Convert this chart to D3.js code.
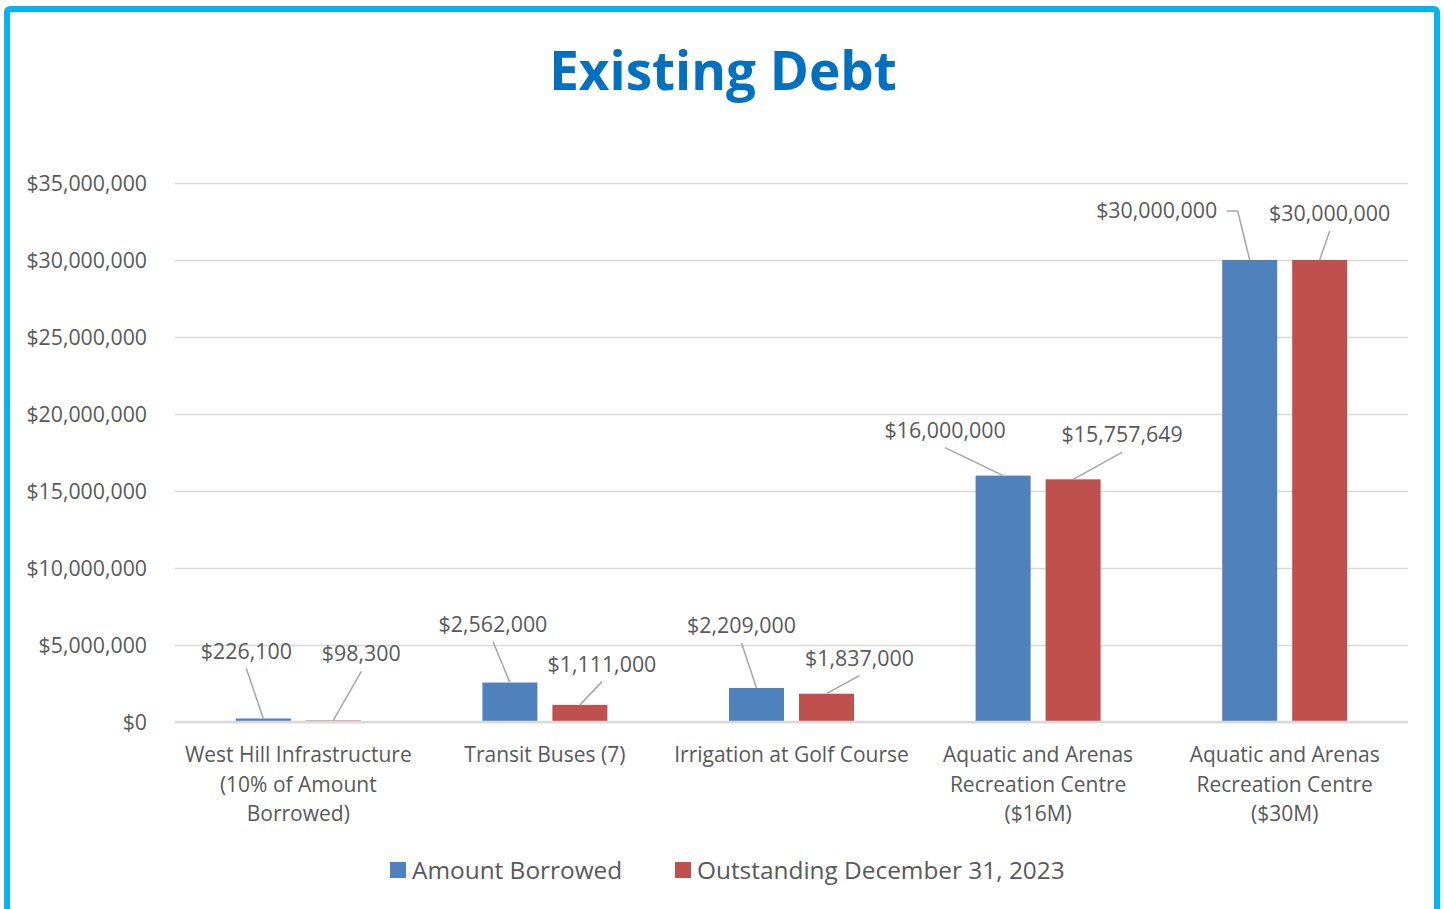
<!DOCTYPE html>
<html>
<head>
<meta charset="utf-8">
<script src="https://cdn.jsdelivr.net/npm/d3@7/dist/d3.min.js"></script>
<style>
  html, body { margin: 0; padding: 0; background: #fff; }
  svg { display: block; }
</style>
</head>
<body>
<svg id="chart" width="1444" height="909"></svg>
<script>
// Debt projects and amounts
const categories = [
  ["West Hill Infrastructure", "(10% of Amount", "Borrowed)"],
  ["Transit Buses (7)"],
  ["Irrigation at Golf Course"],
  ["Aquatic and Arenas", "Recreation Centre", "($16M)"],
  ["Aquatic and Arenas", "Recreation Centre", "($30M)"]
];
const seriesNames = ["Amount Borrowed", "Outstanding December 31, 2023"];
const amountBorrowed = [226100, 2562000, 2209000, 16000000, 30000000];
const outstanding2023 = [98300, 1111000, 1837000, 15757649, 30000000];
const yTicks = [0, 5000000, 10000000, 15000000, 20000000, 25000000, 30000000, 35000000];

// Callout placement for each data label: [dx, dy] of the label from the bar top
const labelOffsetsBorrowed = [[-17, -60], [-17, -51], [-15, -55], [-58, -38], [-93, -42]];
const labelOffsetsOutstanding = [[28, -59], [22, -33], [33, -28], [49, -37], [10, -39]];

const colors = ["#4F81BD", "#C0504D"];
const font = "'Open Sans', sans-serif";
const textColor = "#595959";

const svg = d3.select("#chart");

// Frame
svg.append("rect")
  .attr("x", 7).attr("y", 9).attr("width", 1430).attr("height", 910)
  .attr("rx", 3)
  .attr("fill", "#fff").attr("stroke", "#00B4F0").attr("stroke-width", 6);

// Title
svg.append("text")
  .attr("x", 723).attr("y", 90)
  .attr("text-anchor", "middle")
  .attr("font-family", font).attr("font-weight", 700)
  .attr("font-size", 53).attr("fill", "#0070C0")
  .text("Existing Debt");

const plot = { left: 175, right: 1408, top: 183, bottom: 722 };

const x0 = d3.scaleBand()
  .domain(d3.range(categories.length))
  .range([plot.left, plot.right])
  .paddingInner(0).paddingOuter(0);

const x1 = d3.scaleBand()
  .domain([0, 1])
  .range([x0.bandwidth() / 2 - 62.5, x0.bandwidth() / 2 + 62.5])
  .paddingInner(0.214);

const y = d3.scaleLinear().domain([0, 35000000]).range([plot.bottom, plot.top]);

const fmt = d3.format("$,.0f");

// Gridlines + y labels
const yAxis = d3.axisLeft(y).tickValues(yTicks)
  .tickSize(-(plot.right - plot.left)).tickPadding(28)
  .tickFormat(fmt);
const gy = svg.append("g").attr("transform", `translate(${plot.left},0)`).call(yAxis);
gy.select(".domain").remove();
gy.selectAll(".tick line").attr("stroke", "#d9d9d9").attr("stroke-width", 1.5);
gy.selectAll(".tick text")
  .attr("font-family", font).attr("font-size", 21.3).attr("fill", textColor)
  .attr("dy", "0.35em");

// Bars
const series = [amountBorrowed, outstanding2023];
const groups = svg.append("g").selectAll("g")
  .data(categories.map((c, i) => i))
  .join("g")
  .attr("transform", i => `translate(${x0(i)},0)`);

groups.selectAll("rect")
  .data(i => series.map((s, k) => ({ k, v: s[i] })))
  .join("rect")
  .attr("x", d => x1(d.k))
  .attr("width", x1.bandwidth())
  .attr("y", d => y(d.v))
  .attr("height", d => y(0) - y(d.v))
  .attr("fill", d => colors[d.k]);

// Baseline
svg.append("line")
  .attr("x1", plot.left).attr("x2", plot.right)
  .attr("y1", y(0)).attr("y2", y(0))
  .attr("stroke", "#d9d9d9").attr("stroke-width", 2.5);

// Data labels with leader lines
const labels = svg.append("g");
const offsets = [labelOffsetsBorrowed, labelOffsetsOutstanding];
series.forEach((s, k) => {
  s.forEach((v, i) => {
    const bx = x0(i) + x1(k) + x1.bandwidth() / 2;
    const by = y(v);
    const [dx, dy] = offsets[k][i];
    const tx = bx + dx, ty = by + dy;
    labels.append("text")
      .attr("x", tx).attr("y", ty)
      .attr("text-anchor", "middle")
      .attr("font-family", font).attr("font-size", 21.4).attr("fill", textColor)
      .text(fmt(v));
    let pts;
    if (k === 0 && i === 4) {
      // elbow callout to the right of the label
      pts = [[tx + 70, ty - 7], [bx - 12, ty - 7], [bx, by]];
    } else {
      pts = [[tx, ty + 10], [bx, by]];
    }
    labels.append("path")
      .attr("d", d3.line()(pts))
      .attr("fill", "none").attr("stroke", "#a6a6a6").attr("stroke-width", 1.5);
  });
});

// Category labels
const cat = svg.append("g");
categories.forEach((lines, i) => {
  const cx = x0(i) + x0.bandwidth() / 2;
  const t = cat.append("text")
    .attr("x", cx).attr("y", 762)
    .attr("text-anchor", "middle")
    .attr("font-family", font).attr("font-size", 21).attr("fill", textColor);
  lines.forEach((ln, j) => {
    t.append("tspan").attr("x", cx)
      .attr("dy", j === 0 ? 0 : 29.5).text(ln);
  });
});

// Legend
const legendX = [390, 675];
seriesNames.forEach((name, k) => {
  const g = svg.append("g").attr("transform", `translate(${legendX[k]},862)`);
  g.append("rect").attr("width", 16).attr("height", 16).attr("fill", colors[k]);
  g.append("text").attr("x", 22).attr("y", 17)
    .attr("font-family", font).attr("font-size", 24.4).attr("fill", textColor)
    .text(name);
});
</script>
</body>
</html>
